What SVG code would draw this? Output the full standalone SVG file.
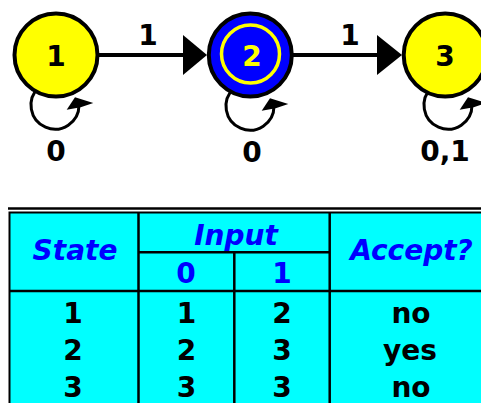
<svg xmlns="http://www.w3.org/2000/svg" width="481" height="403" viewBox="0 0 481 403">
<defs>
<style>
text{font-family:"DejaVu Sans",Verdana,sans-serif;font-weight:bold;font-size:28px;text-anchor:middle}
.node{stroke:#000;stroke-width:4}
.edge{stroke:#000;stroke-width:4;fill:none}
.loop{stroke:#000;stroke-width:3;fill:none}
.hd{fill:#0000FF;font-style:italic}
.sub{fill:#0000FF}
.grid{stroke:#000;stroke-width:2.5}
</style>
<g id="selfloop">
<path class="loop" d="M 38.6 87.6 A 24 24 0 1 0 79 105"/>
<polygon points="93.3,103 75,97.3 66.7,109.7 80.7,107.3" fill="#000"/>
</g>
</defs>
<g id="connectors">
<use href="#selfloop"/>
<use href="#selfloop" transform="translate(195,1)"/>
<use href="#selfloop" transform="translate(393,0)"/>
<line class="edge" x1="98" y1="55" x2="184" y2="55"/>
<polygon points="183,35 183,75 207,55" fill="#000"/>
<line class="edge" x1="292" y1="55" x2="378" y2="55"/>
<polygon points="377,35 377,75 402,55" fill="#000"/>
<text x="148" y="45">1</text>
<text x="350" y="45">1</text>
<text x="56" y="161">0</text>
<text x="252" y="162">0</text>
<text x="445" y="161">0,1</text>
</g>
<g id="node1">
<circle class="node" cx="56" cy="55" r="41.5" fill="#FFFF00"/>
<text x="56" y="66">1</text>
</g>
<g id="node2">
<circle class="node" cx="250.3" cy="55" r="41.5" fill="#0000FF"/>
<circle cx="250.5" cy="54" r="29" fill="none" stroke="#FFFF00" stroke-width="3.5"/>
<text x="252" y="66" fill="#FFFF00">2</text>
</g>
<g id="node3">
<circle class="node" cx="445.2" cy="55" r="41.5" fill="#FFFF00"/>
<text x="445" y="66">3</text>
</g>
<g id="table">
<line x1="8" y1="208.5" x2="481" y2="208.5" stroke="#000" stroke-width="2.5"/>
<rect x="9.5" y="212.5" width="495" height="200" fill="#00FFFF" stroke="#000" stroke-width="2"/>
<line class="grid" x1="138.5" y1="212" x2="138.5" y2="403"/>
<line class="grid" x1="234.3" y1="252.3" x2="234.3" y2="403"/>
<line class="grid" x1="329.7" y1="212" x2="329.7" y2="403"/>
<line class="grid" x1="138.5" y1="252.3" x2="329.7" y2="252.3"/>
<line class="grid" x1="9" y1="291" x2="481" y2="291"/>
<text class="hd" x="75" y="260">State</text>
<text class="hd" x="236" y="245">Input</text>
<text class="hd" x="411.5" y="260">Accept?</text>
<text class="sub" x="186" y="283">0</text>
<text class="sub" x="282" y="283">1</text>
<text x="73" y="323">1</text>
<text x="186.5" y="323">1</text>
<text x="282" y="323">2</text>
<text x="411" y="323">no</text>
<text x="73" y="360">2</text>
<text x="186.5" y="360">2</text>
<text x="282" y="360">3</text>
<text x="410" y="360">yes</text>
<text x="73" y="397">3</text>
<text x="186.5" y="397">3</text>
<text x="282" y="397">3</text>
<text x="411" y="397">no</text>
</g>
</svg>
